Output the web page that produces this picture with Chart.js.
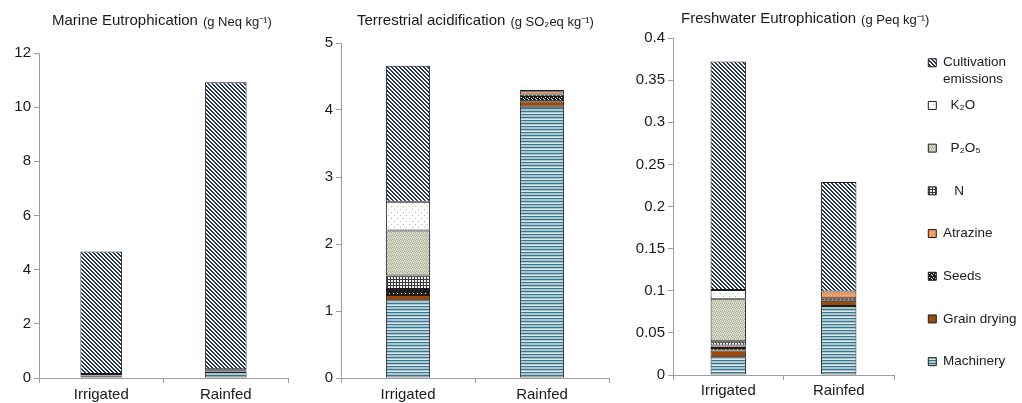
<!DOCTYPE html>
<html>
<head>
<meta charset="utf-8">
<script src="https://cdn.jsdelivr.net/npm/chart.js@4"></script>
<style>
  html, body { margin: 0; padding: 0; background: #fff; overflow: hidden; }
  canvas { position: absolute; top: 0; }
</style>
</head>
<body>
<canvas id="marineChart" width="300" height="403" style="left:0"></canvas>
<canvas id="terrChart" width="320" height="403" style="left:300px"></canvas>
<canvas id="freshChart" width="402" height="403" style="left:620px"></canvas>
<script>
const categories = ['Irrigated', 'Rainfed'];
// stacking order, bottom to top
const components = ['Machinery', 'Grain drying', 'Seeds', 'Atrazine', 'N', 'P₂O₅', 'K₂O', 'Cultivation emissions'];
const legendText = [['Machinery', ''], ['Grain drying', ''], ['Seeds', ''], ['Atrazine', ''],
  ['   N', ''], ['  P₂O₅', ''], ['  K₂O', ''], ['Cultivation', 'emissions']];

// g Neq kg-1
const marineIrrigated = [0.05, 0.03, 0.02, 0, 0.05, 0, 0, 4.52];
const marineRainfed = [0.22, 0.02, 0.05, 0.01, 0.02, 0, 0, 10.6];
const marineTicks = [0, 2, 4, 6, 8, 10, 12];

// g SO2eq kg-1
const terrIrrigated = [1.16, 0.08, 0.06, 0.03, 0.2, 0.67, 0.43, 2.03];
const terrRainfed = [4.05, 0.08, 0.1, 0.05, 0.02, 0, 0, 0];
const terrTicks = [0, 1, 2, 3, 4, 5];

// g Peq kg-1
const freshIrrigated = [0.021, 0.008, 0.003, 0.003, 0.005, 0.05, 0.011, 0.271];
const freshRainfed = [0.082, 0.006, 0.003, 0.008, 0, 0, 0, 0.13];
const freshTicks = [0, 0.05, 0.1, 0.15, 0.2, 0.25, 0.3, 0.35, 0.4];

const FONT = '"Liberation Sans", Arial, sans-serif';
const AXIS = '#9c9c9c';
const INK = '#1a1a1a';

function tile(w, h, bg, paint) {
  const c = document.createElement('canvas');
  c.width = w; c.height = h;
  const g = c.getContext('2d');
  g.fillStyle = bg;
  g.fillRect(0, 0, w, h);
  paint(g);
  return g.createPattern(c, 'repeat');
}
function px(g, col, pts) {
  g.fillStyle = col;
  pts.forEach(p => g.fillRect(p[0], p[1], 1, 1));
}

const machineryFill = tile(4, 6, '#a8c7d2', g => {
  g.fillStyle = '#3b7489'; g.fillRect(0, 0, 4, 1); g.fillRect(0, 3, 4, 1);
  g.fillStyle = '#d9e9ee'; g.fillRect(0, 5, 4, 1);
});
const dryingFill = '#9a4a0c';
const seedsFill = tile(4, 4, '#1c1c1c', g => px(g, '#f2f2f2', [[1, 1], [3, 2], [0, 3]]));
const atrazineFill = tile(3, 3, '#f3965a', g => px(g, '#fcc9a2', [[1, 1]]));
const nFill = tile(3, 3, '#eeeeee', g => {
  g.fillStyle = '#3a3a3a'; g.fillRect(0, 0, 3, 1); g.fillRect(0, 0, 1, 3);
});
const p2o5Fill = tile(4, 4, '#c9cdb7', g => {
  px(g, '#e4e6d9', [[0, 0], [2, 1], [1, 2], [3, 3]]);
  px(g, '#a9af96', [[3, 0], [1, 1], [0, 3], [2, 3]]);
  px(g, '#bcc0a8', [[2, 2]]);
});
const k2oFill = tile(6, 6, '#ffffff', g => px(g, '#b4b4b4', [[1, 2], [4, 5]]));
const cultivationFill = tile(4, 4, '#ffffff', g => {
  const pts = [];
  for (let y = 0; y < 4; y++) for (let x = 0; x < 4; x++) {
    const d = (x - y + 8) % 4;
    if (d === 0 || d === 1) pts.push([x, y]);
  }
  px(g, '#263656', pts);
});
const fills = [machineryFill, dryingFill, seedsFill, atrazineFill, nFill, p2o5Fill, k2oFill, cultivationFill];

const panelTitle = {
  id: 'panelTitle',
  afterDraw(chart, args, opts) {
    const ctx = chart.ctx;
    ctx.save();
    ctx.fillStyle = INK;
    ctx.textBaseline = 'middle';
    ctx.font = '15px ' + FONT;
    ctx.fillText(opts.text[0], opts.x, opts.y);
    const w = ctx.measureText(opts.text[0]).width;
    ctx.font = '13px ' + FONT;
    ctx.fillText(opts.text[1], opts.x + w + 5, opts.y + 1);
    ctx.restore();
  }
};

function buildChart(id, irrigated, rainfed, ticks, o) {
  const datasets = components.map((name, i) => ({
    label: name,
    data: [irrigated[i], rainfed[i]],
    backgroundColor: fills[i],
    borderColor: '#1c1c1c',
    borderWidth: 1,
    borderSkipped: false,
    barPercentage: o.bar,
    categoryPercentage: 1
  }));

  const scales = {
    x: {
      stacked: true,
      grid: { offset: true, drawOnChartArea: false, tickLength: 5, color: AXIS },
      border: { color: AXIS },
      ticks: { color: INK, font: { family: FONT, size: 15 }, padding: o.xPad },
      afterFit: s => { s.height = o.xh; }
    },
    y: {
      stacked: true,
      min: ticks[0],
      max: ticks[ticks.length - 1],
      grid: { drawOnChartArea: false, tickLength: 5, color: AXIS },
      border: { color: AXIS },
      ticks: { color: INK, font: { family: FONT, size: 15 }, padding: 3, callback: v => String(+v.toFixed(2)) },
      afterBuildTicks: s => { s.ticks = ticks.map(v => ({ value: v })); },
      afterFit: s => { s.width = o.yw; }
    }
  };

  let legend = { display: false };
  if (o.legend) {
    scales.spacer = {
      type: 'linear', position: 'right', display: true,
      grid: { display: false }, border: { display: false }, ticks: { display: false },
      afterFit: s => { s.width = 24; }
    };
    legend = {
      display: true,
      position: 'right',
      align: 'start',
      maxWidth: 104,
      title: { display: true, text: '', font: { size: 1, lineHeight: 1 }, padding: { top: 6.7, bottom: 0 } },
      labels: {
        boxWidth: 8,
        boxHeight: 8,
        padding: 10.3,
        color: INK,
        font: { family: FONT, size: 13.5, lineHeight: 1.2 },
        generateLabels(chart) {
          const items = Chart.defaults.plugins.legend.labels.generateLabels(chart);
          items.forEach(it => { it.text = legendText[it.datasetIndex]; });
          return items.reverse(); // top of the stack first
        }
      }
    };
  }

  return new Chart(document.getElementById(id), {
    type: 'bar',
    data: { labels: categories, datasets },
    options: {
      responsive: false,
      animation: false,
      layout: { padding: o.pad },
      scales,
      plugins: {
        legend,
        tooltip: { enabled: false },
        panelTitle: o.title
      }
    },
    plugins: [panelTitle]
  });
}

buildChart('marineChart', marineIrrigated, marineRainfed, marineTicks, {
  bar: 0.335, yw: 39, xh: 25, xPad: 3,
  pad: { top: 53, right: 12, left: 0, bottom: 0 },
  title: { text: ['Marine Eutrophication', '(g Neq kg⁻¹)'], x: 52, y: 21 }
});

buildChart('terrChart', terrIrrigated, terrRainfed, terrTicks, {
  bar: 0.33, yw: 41, xh: 25, xPad: 3,
  pad: { top: 43, right: 11, left: 0, bottom: 0 },
  title: { text: ['Terrestrial acidification', '(g SO₂eq kg⁻¹)'], x: 57, y: 21 }
});

buildChart('freshChart', freshIrrigated, freshRainfed, freshTicks, {
  bar: 0.32, yw: 53, xh: 28, xPad: 2, legend: true,
  pad: { top: 38, right: 0, left: 0, bottom: 0 },
  title: { text: ['Freshwater Eutrophication', '(g Peq kg⁻¹)'], x: 61, y: 19 }
});
</script>
</body>
</html>
